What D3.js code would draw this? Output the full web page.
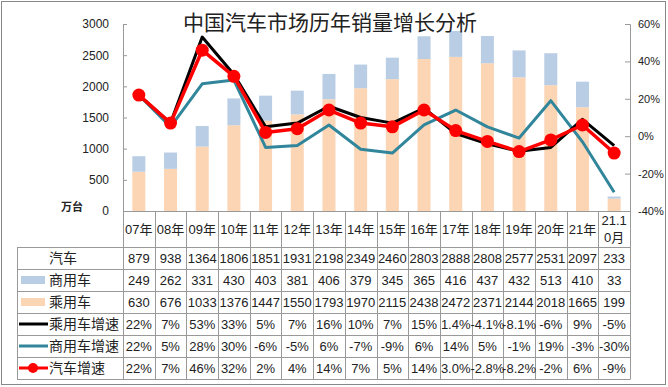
<!DOCTYPE html>
<html>
<head>
<meta charset="utf-8">
<script src="https://cdn.jsdelivr.net/npm/d3@7"></script>
<style>
  body { margin: 0; background: #fff; }
  svg text { font-family: "Liberation Sans", "Noto Sans CJK SC", sans-serif; fill: #222; }
</style>
</head>
<body>
<div id="chart"></div>
<script>
const categories = ['07年','08年','09年','10年','11年','12年','13年','14年','15年','16年','17年','18年','19年','20年','21年','21.10月'];
const totalSales = [879,938,1364,1806,1851,1931,2198,2349,2460,2803,2888,2808,2577,2531,2097,233];
const commercial = [249,262,331,430,403,381,406,379,345,365,416,437,432,513,410,33];
const passenger = [630,676,1033,1376,1447,1550,1793,1970,2115,2438,2472,2371,2144,2018,1665,199];
const passengerGrowth = ['22%','7%','53%','33%','5%','7%','16%','10%','7%','15%','1.4%','-4.1%','-8.1%','-6%','9%','-5%'];
const commercialGrowth = ['22%','5%','28%','30%','-6%','-5%','6%','-7%','-9%','6%','14%','5%','-1%','19%','-3%','-30%'];
const totalGrowth = ['22%','7%','46%','32%','2%','4%','14%','7%','5%','14%','3.0%','-2.8%','-8.2%','-2%','6%','-9%'];
const leftTicks = [0,500,1000,1500,2000,2500,3000];
const rightTicks = [-40,-20,0,20,40,60];

const W = 668, H = 387;
const plot = { left: 123, right: 630, top: 24, bottom: 211 };
const rowH = 22, headerBottom = 247, tableLeft = 17;

const colors = {
  commercial: '#b9cde5',
  passenger: '#fcd5b5',
  pGrowth: '#000000',
  cGrowth: '#31869b',
  tGrowth: '#ff0000',
  grid: '#999999'
};

const svg = d3.select('#chart').append('svg')
  .attr('width', W)
  .attr('height', H);

svg.append('rect')
  .attr('x', 1.5).attr('y', 1.5)
  .attr('width', W - 4).attr('height', H - 4)
  .attr('fill', '#fff')
  .attr('stroke', '#888');

let x = d3.scaleBand()
  .domain(categories)
  .range([plot.left, plot.right])
  .padding(0);

let y = d3.scaleLinear()
  .domain([0, 3000])
  .range([plot.bottom, plot.top]);

let y2 = d3.scaleLinear()
  .domain([-40, 60])
  .range([plot.bottom, plot.top]);

const pct = s => parseFloat(s);
const cx = d => x(d) + x.bandwidth() / 2;
const barW = 13;

// stacked bars: passenger at bottom, commercial on top
const stackData = categories.map((c, i) => ({ cat: c, passenger: passenger[i], commercial: commercial[i] }));
const series = d3.stack().keys(['passenger', 'commercial'])(stackData);

svg.append('g').selectAll('g')
  .data(series)
  .join('g')
    .attr('fill', d => colors[d.key])
  .selectAll('rect')
  .data(d => d)
  .join('rect')
    .attr('x', d => cx(d.data.cat) - barW / 2)
    .attr('y', d => y(d[1]))
    .attr('width', barW)
    .attr('height', d => y(d[0]) - y(d[1]));

// axes
const leftAxis = svg.append('g')
  .attr('transform', 'translate(' + plot.left + ',0)')
  .call(d3.axisLeft(y).tickValues(leftTicks).tickFormat(d3.format('d'))
    .tickSizeInner(-4).tickSizeOuter(-4).tickPadding(14));
leftAxis.select('.domain').attr('stroke', colors.grid);
leftAxis.selectAll('.tick line').attr('stroke', colors.grid);
leftAxis.selectAll('text').style('font-size', '12px').attr('fill', '#333');

const rightAxis = svg.append('g')
  .attr('transform', 'translate(' + plot.right + ',0)')
  .call(d3.axisRight(y2).tickValues(rightTicks).tickFormat(d => d + '%')
    .tickSizeInner(-5).tickSizeOuter(-5).tickPadding(8));
rightAxis.select('.domain').attr('stroke', colors.grid);
rightAxis.selectAll('.tick line').attr('stroke', colors.grid);
rightAxis.selectAll('text').style('font-size', '11px').attr('fill', '#333');

svg.append('text')
  .attr('x', 72).attr('y', 211)
  .attr('text-anchor', 'middle')
  .style('font-size', '11px')
  .style('font-weight', 'bold')
  .text('万台');

// growth lines
const line = d3.line()
  .x((d, i) => cx(categories[i]))
  .y(d => y2(pct(d)));

svg.append('path')
  .datum(commercialGrowth)
  .attr('d', line)
  .attr('fill', 'none')
  .attr('stroke', colors.cGrowth)
  .attr('stroke-width', 3)
  .attr('stroke-linejoin', 'round');

svg.append('path')
  .datum(passengerGrowth)
  .attr('d', line)
  .attr('fill', 'none')
  .attr('stroke', colors.pGrowth)
  .attr('stroke-width', 3)
  .attr('stroke-linejoin', 'round');

svg.append('path')
  .datum(totalGrowth)
  .attr('d', line)
  .attr('fill', 'none')
  .attr('stroke', colors.tGrowth)
  .attr('stroke-width', 3.5)
  .attr('stroke-linejoin', 'round');

svg.append('g').selectAll('circle')
  .data(totalGrowth)
  .join('circle')
    .attr('cx', (d, i) => cx(categories[i]))
    .attr('cy', d => y2(pct(d)))
    .attr('r', 6.5)
    .attr('fill', colors.tGrowth);

// title
svg.append('text')
  .attr('x', 330).attr('y', 30)
  .attr('text-anchor', 'middle')
  .style('font-size', '21px')
  .style('font-family', '"Noto Sans CJK SC", sans-serif')
  .text('中国汽车市场历年销量增长分析');

// data table
const table = svg.append('g');
const rows = [
  { label: '汽车', values: totalSales },
  { label: '商用车', values: commercial, icon: 'rect', color: colors.commercial },
  { label: '乘用车', values: passenger, icon: 'rect', color: colors.passenger },
  { label: '乘用车增速', values: passengerGrowth, icon: 'line', color: colors.pGrowth },
  { label: '商用车增速', values: commercialGrowth, icon: 'line', color: colors.cGrowth },
  { label: '汽车增速', values: totalGrowth, icon: 'marker', color: colors.tGrowth }
];
const tableBottom = headerBottom + rows.length * rowH;

// header category labels
categories.forEach(c => {
  const t = table.append('text')
    .attr('x', cx(c))
    .attr('text-anchor', 'middle')
    .style('font-size', '13px');
  if (c === '21.10月') {
    t.append('tspan').attr('x', cx(c)).attr('y', 225).text('21.1');
    t.append('tspan').attr('x', cx(c)).attr('y', 242).text('0月');
  } else {
    t.attr('y', 234).text(c);
  }
});

// grid lines
const boundaries = categories.map(c => x(c)).concat([plot.right]);
table.selectAll('.vline')
  .data(boundaries)
  .join('line')
    .attr('class', 'vline')
    .attr('x1', d => Math.round(d) + 0.5).attr('x2', d => Math.round(d) + 0.5)
    .attr('y1', plot.bottom).attr('y2', tableBottom)
    .attr('stroke', colors.grid);

table.append('line')
  .attr('x1', tableLeft + 0.5).attr('x2', tableLeft + 0.5)
  .attr('y1', headerBottom).attr('y2', tableBottom)
  .attr('stroke', colors.grid);

table.append('line')
  .attr('x1', plot.left).attr('x2', plot.right)
  .attr('y1', plot.bottom + 0.5).attr('y2', plot.bottom + 0.5)
  .attr('stroke', colors.grid);

d3.range(rows.length + 1).forEach(i => {
  table.append('line')
    .attr('x1', tableLeft).attr('x2', plot.right + 0.5)
    .attr('y1', headerBottom + i * rowH + 0.5).attr('y2', headerBottom + i * rowH + 0.5)
    .attr('stroke', colors.grid);
});

rows.forEach((r, i) => {
  const midY = headerBottom + i * rowH + rowH / 2;
  table.append('text')
    .attr('x', 49).attr('y', midY + 5)
    .style('font-size', '14px')
    .attr('fill', '#333')
    .text(r.label);

  if (r.icon === 'rect') {
    table.append('rect')
      .attr('x', 21).attr('y', midY - 4)
      .attr('width', 24).attr('height', 8)
      .attr('fill', r.color);
  } else if (r.icon === 'line' || r.icon === 'marker') {
    table.append('line')
      .attr('x1', 19).attr('x2', 48)
      .attr('y1', midY).attr('y2', midY)
      .attr('stroke', r.color)
      .attr('stroke-width', 3);
    if (r.icon === 'marker') {
      table.append('circle')
        .attr('cx', 33).attr('cy', midY).attr('r', 5)
        .attr('fill', r.color);
    }
  }

  r.values.forEach((v, j) => {
    table.append('text')
      .attr('x', cx(categories[j]))
      .attr('y', midY + 5)
      .attr('text-anchor', 'middle')
      .style('font-size', '13px')
      .text(v);
  });
});
</script>
</body>
</html>
